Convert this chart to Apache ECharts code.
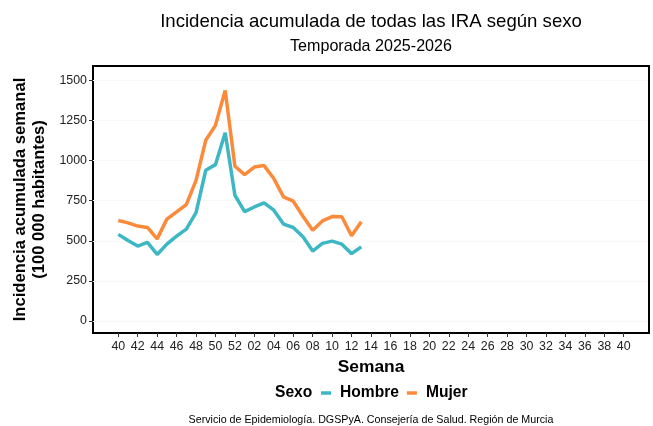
<!DOCTYPE html>
<html>
<head>
<meta charset="utf-8">
<script src="https://cdn.jsdelivr.net/npm/echarts@6/dist/echarts.min.js"></script>
<style>
  html, body { margin: 0; padding: 0; background: #fff; }
  #chart { width: 653px; height: 426px; }
</style>
</head>
<body>
<div id="chart"></div>
<script>
// semanas de la temporada (40 a 52, luego 01 a 40)
var weeks = ['40', '41', '42', '43', '44', '45', '46', '47', '48', '49', '50', '51', '52',
  '01', '02', '03', '04', '05', '06', '07', '08', '09', '10', '11', '12', '13', '14', '15',
  '16', '17', '18', '19', '20', '21', '22', '23', '24', '25', '26', '27', '28', '29', '30',
  '31', '32', '33', '34', '35', '36', '37', '38', '39', '40']
var hombre = [540, 502, 467, 490, 415, 479, 529, 573, 676, 940, 975, 1174, 784, 682,
  711, 736, 691, 604, 583, 525, 436, 484, 498, 479, 420, 462]
var mujer = [627, 612, 592, 583, 512, 635, 680, 726, 877, 1127, 1220, 1438, 965, 913,
  960, 969, 888, 774, 747, 653, 566, 624, 651, 650, 531, 618]
var yTicks = [0, 250, 500, 750, 1000, 1250, 1500]
var xTicks = []
for (var i = 0; i < weeks.length; i += 2) xTicks.push(i)

var font = '"Liberation Sans", Arial, sans-serif'
var chart = echarts.init(document.getElementById('chart'))

function toPairs(arr) {
  return arr.map(function(v, i) { return [i, v] })
}

chart.setOption({
  animation: false,
  textStyle: { fontFamily: font },
  title: [{
    text: 'Incidencia acumulada de todas las IRA según sexo',
    left: 366, top: 7, textAlign: 'center',
    textStyle: { fontSize: 18.6, fontWeight: 'normal', color: '#000', fontFamily: font }
  }, {
    text: 'Temporada 2025-2026',
    left: 366, top: 34, textAlign: 'center',
    textStyle: { fontSize: 16.1, fontWeight: 'normal', color: '#000', fontFamily: font }
  }, {
    text: 'Servicio de Epidemiología. DGSPyA. Consejería de Salud. Región de Murcia',
    left: 366, top: 410, textAlign: 'center',
    textStyle: { fontSize: 10.7, fontWeight: 'normal', color: '#000', fontFamily: font }
  }],
  grid: {
    left: 93, right: 4, top: 66, bottom: 93,
    show: true, borderColor: '#000', borderWidth: 2, backgroundColor: '#fff'
  },
  legend: {
    left: 316, top: 380,
    itemWidth: 10, itemHeight: 3.5, itemGap: 8,
    icon: 'rect',
    textStyle: { fontSize: 15.6, fontWeight: 'bold', color: '#000', fontFamily: font, padding: [0, 0, 0, 4] },
    data: ['Hombre', 'Mujer']
  },
  graphic: [{
    type: 'text', left: 275, top: 385,
    style: { text: 'Sexo', font: 'bold 15.6px ' + font, fill: '#000' }
  }],
  xAxis: {
    type: 'value', min: -2.6, max: 54.6,
    name: 'Semana', nameLocation: 'middle', nameGap: 26,
    nameTextStyle: { fontSize: 17.4, fontWeight: 'bold', color: '#000' },
    axisLine: { show: false, onZero: false },
    axisTick: { show: true, length: 4, customValues: xTicks, lineStyle: { color: '#333' } },
    axisLabel: {
      customValues: xTicks, fontSize: 12.4, color: '#222', margin: 8,
      formatter: function(v) { return weeks[v] }
    },
    splitLine: { show: false }
  },
  yAxis: {
    type: 'value', min: -75, max: 1590,
    name: 'Incidencia acumulada semanal\n(100 000 habitantes)',
    nameLocation: 'middle', nameGap: 40, nameRotate: 90,
    nameTextStyle: { fontSize: 16.6, fontWeight: 'bold', color: '#000', lineHeight: 19 },
    axisLine: { show: false, onZero: false },
    axisTick: { show: true, length: 4, customValues: yTicks, lineStyle: { color: '#333' } },
    axisLabel: {
      customValues: yTicks, fontSize: 12.4, color: '#222', margin: 6,
      formatter: function(v) { return String(v) }
    },
    splitLine: { show: true, customValues: yTicks, lineStyle: { color: '#f2f2f2', type: 'dotted' } }
  },
  series: [{
    name: 'Hombre', type: 'line', data: toPairs(hombre),
    symbol: 'none', color: '#3cb7c3',
    lineStyle: { width: 3.5, color: '#3cb7c3' }
  }, {
    name: 'Mujer', type: 'line', data: toPairs(mujer),
    symbol: 'none', color: '#fb8b3b',
    lineStyle: { width: 3.5, color: '#fb8b3b' }
  }]
})
</script>
</body>
</html>
